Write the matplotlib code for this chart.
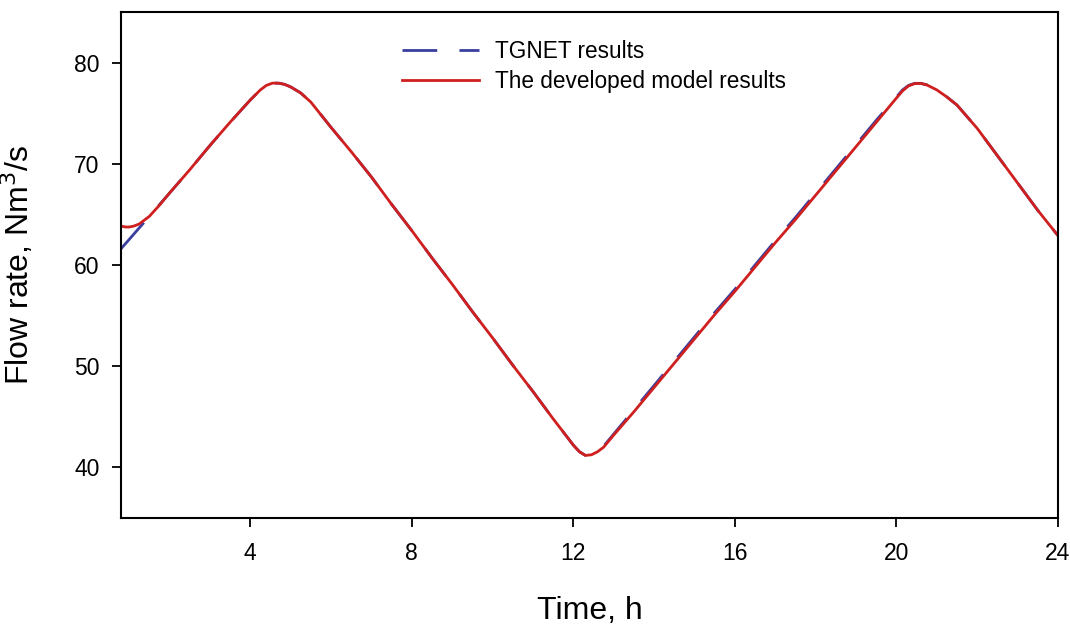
import matplotlib
matplotlib.use("Agg")
import matplotlib.pyplot as plt

plt.rcParams['font.family'] = ['Liberation Sans', 'DejaVu Sans']

# Time (h) and flow rate (Nm3/s)
time_tgnet = [0.8, 1.5, 2.0, 2.5, 3.0, 3.5, 4.0, 4.25, 4.4, 4.55, 4.7, 4.85, 5.0,
              5.25, 5.5, 6.0, 6.5, 7.0, 7.5, 8.0, 8.5, 9.0, 9.5, 10.0, 10.5, 11.0,
              11.5, 12.0, 12.15, 12.3, 12.45, 12.6, 12.75, 13.0, 13.5, 14.0, 14.5,
              15.0, 15.5, 16.0, 16.5, 17.0, 17.5, 18.0, 18.5, 19.0, 19.5, 20.0,
              20.15, 20.3, 20.45, 20.6, 20.75, 21.0, 21.25, 21.5, 22.0, 22.5, 23.0,
              23.5, 24.0]
flow_tgnet = [61.6, 64.8, 67.1, 69.4, 71.8, 74.1, 76.3, 77.3, 77.75, 77.97, 77.97,
              77.85, 77.6, 77.0, 76.1, 73.6, 71.2, 68.7, 66.0, 63.4, 60.7, 58.1,
              55.4, 52.8, 50.1, 47.5, 44.8, 42.2, 41.55, 41.18, 41.25, 41.6, 42.1,
              43.3, 45.7, 48.1, 50.5, 52.9, 55.3, 57.6, 60.0, 62.4, 64.7, 67.1,
              69.5, 71.9, 74.3, 76.6, 77.3, 77.75, 77.95, 77.95, 77.8, 77.3, 76.6,
              75.8, 73.5, 70.8, 68.1, 65.4, 62.9]

time_model = [0.8, 0.9, 1.0, 1.12, 1.25, 1.5, 1.75, 2.0, 2.5, 3.0, 3.5, 4.0, 4.25,
              4.4, 4.55, 4.7, 4.85, 5.0, 5.25, 5.5, 6.0, 6.5, 7.0, 7.5, 8.0, 8.5,
              9.0, 9.5, 10.0, 10.5, 11.0, 11.5, 12.0, 12.15, 12.3, 12.45, 12.6,
              12.75, 13.0, 13.5, 14.0, 14.5, 15.0, 15.5, 16.0, 16.5, 17.0, 17.5,
              18.0, 18.5, 19.0, 19.5, 20.0, 20.15, 20.3, 20.45, 20.6, 20.75, 21.0,
              21.25, 21.5, 22.0, 22.5, 23.0, 23.5, 24.0]
flow_model = [63.85, 63.76, 63.75, 63.85, 64.05, 64.8, 65.9, 67.1, 69.4, 71.8, 74.1,
              76.3, 77.3, 77.75, 77.97, 77.97, 77.85, 77.6, 77.0, 76.1, 73.6, 71.2,
              68.7, 66.0, 63.4, 60.7, 58.1, 55.4, 52.8, 50.1, 47.5, 44.8, 42.2,
              41.55, 41.18, 41.25, 41.55, 42.0, 43.2, 45.5, 47.9, 50.3, 52.7, 55.1,
              57.4, 59.8, 62.2, 64.5, 66.9, 69.3, 71.7, 74.1, 76.5, 77.2, 77.7,
              77.92, 77.95, 77.8, 77.3, 76.6, 75.8, 73.5, 70.8, 68.1, 65.4, 62.9]

xticks = [4, 8, 12, 16, 20, 24]
yticks = [40, 50, 60, 70, 80]

fig = plt.figure(figsize=(10.7, 6.26), dpi=100)
ax = fig.add_axes([121/1070, 1 - 518/626, (1058 - 121)/1070, (518 - 12)/626])

ax.plot(time_tgnet, flow_tgnet, color='#3a3f9e', lw=2.0, dashes=(12.5, 8),
        label='TGNET results')
ax.plot(time_model, flow_model, color='#cf1f1f', lw=2.0,
        label='The developed model results')

ax.set_xlim(0.8, 24)
ax.set_ylim(35, 85)
ax.set_xticks(xticks)
ax.set_yticks(yticks)
ax.tick_params(direction='out', length=6.5, width=1.3, labelsize=16.5)
ax.tick_params(axis='x', pad=11)
ax.tick_params(axis='y', pad=9)
for s in ax.spines.values():
    s.set_linewidth(1.5)

ax.set_xlabel('Time, h', fontsize=23)
ax.set_ylabel('Flow rate, Nm$^3$/s', fontsize=23, va='center')
ax.xaxis.set_label_coords(0.5, -0.155)
ax.yaxis.set_label_coords(-103/937, 0.5)

leg = ax.legend(loc='upper left', bbox_to_anchor=(402/1070, 1 - 40/626),
                bbox_transform=fig.transFigure, frameon=False, fontsize=16.3,
                handlelength=3.4, handletextpad=0.7, labelspacing=0.3,
                borderpad=0, borderaxespad=0)

fig.savefig('out.png', dpi=100)
